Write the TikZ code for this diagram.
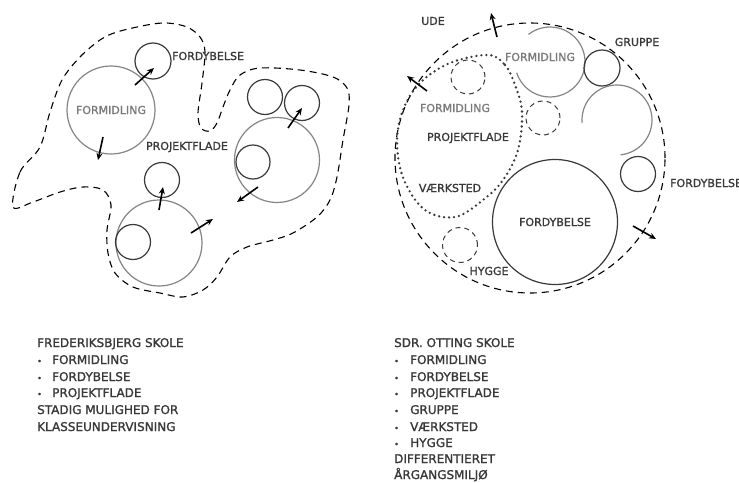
\documentclass[tikz,border=0pt]{standalone}
\usepackage{fontspec}
\setmainfont{DejaVu Sans}[FakeBold=1.3]
\usetikzlibrary{arrows.meta}
\definecolor{txt}{HTML}{383838}
\definecolor{lgray}{HTML}{7A7A7A}
\definecolor{ring}{HTML}{858585}
\definecolor{dring}{HTML}{3A3A3A}
\tikzset{
  ringg/.style={circle, draw=ring, line width=1.2pt, inner sep=0pt, text=lgray, font=\fontsize{11}{12}\selectfont},
  ringd/.style={circle, draw=dring, line width=1.2pt, inner sep=0pt, text=txt, font=\fontsize{11}{12}\selectfont},
  ringdash/.style={circle, draw=dring, dash pattern=on 5pt off 4pt, line width=1pt, inner sep=0pt},
  arcg/.style={draw=ring, line width=1.2pt},
  outline/.style={draw=black, dash pattern=on 7pt off 5pt, line width=1.1pt},
  dotline/.style={draw=dring, dash pattern=on 0pt off 5pt, line cap=round, line width=2.6pt},
  arr/.style={-{Stealth[length=7pt,width=6pt]}, line width=1.6pt, black},
  lbl/.style={font=\fontsize{11}{12}\selectfont, text=txt, inner sep=0pt},
  glbl/.style={lbl, text=lgray},
  body/.style={font=\fontsize{12}{13}\selectfont, text=txt, inner sep=0pt, anchor=base west},
  bul/.style={font=\fontsize{8}{10}\selectfont, text=txt, inner sep=0pt, anchor=base west},
}
\begin{document}
\begin{tikzpicture}[x=1pt,y=-1pt]
\useasboundingbox[fill=white] (0,0) rectangle (739,482);

% ---------- left diagram ----------
\draw[outline] plot[smooth cycle, tension=0.55] coordinates {
 (13,207) (20,172) (40,147) (50,112) (62,80) (80,57) (100,40) (117,32)
 (147,25) (167,23) (187,27) (200,37) (205,52) (202,83) (198,113) (201,128)
 (210,131) (217,123) (223,107) (230,90) (240,75) (260,68) (300,70) (333,77)
 (347,88) (349,105) (343,140) (337,177) (330,200) (317,217) (293,233)
 (273,240) (247,247) (230,257) (217,277) (203,290) (183,297) (160,293)
 (133,287) (115,273) (108,253) (107,230) (111,205) (103,190) (83,187)
 (60,192) (33,202)};

\node[ringg, minimum size=88pt] (lform) at (111,110) {FORMIDLING};
\node[ringd, minimum size=36pt] (lfd) at (153,61) {};
\node[lbl, anchor=west] (lfdl) at (172,56) {FORDYBELSE};
\node[lbl] (lproj) at (187,147) {PROJEKTFLADE};

\node[ringg, minimum size=85pt] (rbig) at (277,160) {};
\node[ringd, minimum size=34pt] (rin) at (253,162) {};
\node[ringd, minimum size=35pt] (rt1) at (265,97) {};
\node[ringd, minimum size=35pt] (rt2) at (302,103) {};

\node[ringg, minimum size=86pt] (bbig) at (159,243) {};
\node[ringd, minimum size=35pt] (bin) at (133,242) {};
\node[ringd, minimum size=35pt] (btop) at (162,180) {};

\coordinate (a1s) at (135,85);  \coordinate (a1e) at (154,68);
\coordinate (a2s) at (103,137); \coordinate (a2e) at (98,160);
\coordinate (a3s) at (288,128); \coordinate (a3e) at (302,108);
\coordinate (a4s) at (258,187); \coordinate (a4e) at (237,202);
\coordinate (a5s) at (159,210); \coordinate (a5e) at (163,187);
\coordinate (a6s) at (191,233); \coordinate (a6e) at (213,219);
\foreach \i in {1,...,6} \draw[arr] (a\i s) -- (a\i e);

% ---------- right diagram ----------
\node[circle, outline, minimum size=270pt, inner sep=0pt] (rout) at (530,158) {};
\node[lbl] (ude) at (433,21) {UDE};

\draw[dotline] plot[smooth cycle, tension=0.6] coordinates {
 (488,55) (505,65) (515,85) (522,112) (518,150) (503,180) (483,200)
 (455,217) (425,210) (404,180) (397,143) (403,110) (420,83) (450,63)};

\node[ringdash, minimum size=34pt] (d1) at (468,77) {};
\node[ringdash, minimum size=34pt] (d2) at (543,118) {};
\node[ringdash, minimum size=35pt] (d3) at (460,245) {};

\draw[arcg] (550,62) ++(232:35) arc[start angle=232, end angle=522, radius=35];
\node[glbl] (rforml) at (540,57) {FORMIDLING};
\node[ringd, minimum size=36pt] (grp) at (602,68) {};
\node[lbl] (grpl) at (637,42) {GRUPPE};
\draw[arcg] (617,120) ++(175:35) arc[start angle=175, end angle=444, radius=35];
\node[ringd, minimum size=35pt] (sfd) at (638,174) {};
\node[lbl, anchor=west] (sfdl) at (670,183) {FORDYBELSE};
\node[ringd, minimum size=125pt] (bfd) at (555,222) {FORDYBELSE};

\node[glbl] (f2) at (455,108) {FORMIDLING};
\node[lbl] (pj2) at (468,138) {PROJEKTFLADE};
\node[lbl] (vk) at (450,188) {VÆRKSTED};
\node[lbl] (hy) at (489,271) {HYGGE};

\coordinate (b1s) at (497,37);  \coordinate (b1e) at (491,13);
\coordinate (b2s) at (427,91);  \coordinate (b2e) at (407,76);
\coordinate (b3s) at (633,226); \coordinate (b3e) at (656,239);
\foreach \i in {1,2,3} \draw[arr] (b\i s) -- (b\i e);

% ---------- text blocks ----------
\node[body] (t1) at (37,347) {FREDERIKSBJERG SKOLE};
\foreach \y/\t in {364/FORMIDLING,381/FORDYBELSE,397/PROJEKTFLADE}{
  \node[bul] at (37,\y) {•};
  \node[body] at (52,\y) {\t};
}
\node[body] (t2) at (37,414) {STADIG MULIGHED FOR};
\node[body] (t3) at (37,431) {KLASSEUNDERVISNING};

\node[body] (s1) at (394,347) {SDR. OTTING SKOLE};
\foreach \y/\t in {364/FORMIDLING,381/FORDYBELSE,397/PROJEKTFLADE,414/GRUPPE,431/VÆRKSTED,447/HYGGE}{
  \node[bul] at (394,\y) {•};
  \node[body] at (410,\y) {\t};
}
\node[body] (s2) at (394,463) {DIFFERENTIERET};
\node[body] (s3) at (394,479) {ÅRGANGSMILJØ};
\end{tikzpicture}
\end{document}
